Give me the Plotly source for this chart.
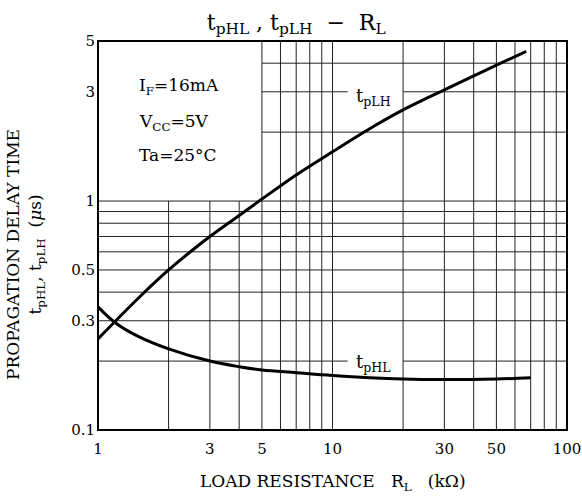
import math
import plotly.graph_objects as go

# Data
rl_lh = [1, 1.5, 2, 2.5, 3, 4, 5, 7, 10, 15, 20, 30, 40, 50, 67]
tplh = [0.25, 0.38, 0.5, 0.605, 0.70, 0.865, 1.02, 1.3, 1.64, 2.12, 2.5, 3.06, 3.52, 3.92, 4.5]
rl_hl = [1, 1.18, 1.5, 2, 3, 4, 5, 7, 10, 20, 30, 50, 70]
tphl = [0.345, 0.295, 0.255, 0.226, 0.2, 0.189, 0.183, 0.178, 0.173, 0.167, 0.166, 0.167, 0.169]

x_ticks = [1, 3, 5, 10, 30, 50, 100]
y_ticks = [0.1, 0.3, 0.5, 1, 3, 5]
x_grid_low = [2, 3, 4]                      # only below y=1
x_grid_full = [5, 6, 7, 8, 9, 10, 20, 30, 40, 50, 60, 70, 80, 90]
y_grid_full = [0.3, 0.4, 0.5, 0.6, 0.7, 0.8, 0.9, 1]
y_grid_right = [2, 4]                       # only right of x=5
label_gap = [11.6, 20]                      # grid lines broken behind the curve labels

FONT = "DejaVu Serif"
L = math.log10

fig = go.Figure()
fig.add_trace(go.Scatter(x=rl_lh, y=tplh, mode="lines",
                         line=dict(color="black", width=3, shape="spline", smoothing=1.0), showlegend=False))
fig.add_trace(go.Scatter(x=rl_hl, y=tphl, mode="lines",
                         line=dict(color="black", width=3, shape="spline", smoothing=1.0), showlegend=False))

shapes = []
gl = dict(color="#222", width=1)


def hline(x0, x1, y):
    shapes.append(dict(type="line", xref="x", yref="y", x0=x0, x1=x1, y0=y, y1=y, line=gl, layer="below"))


for xv in x_grid_low:
    shapes.append(dict(type="line", xref="x", yref="y", x0=xv, x1=xv, y0=0.1, y1=1, line=gl, layer="below"))
for xv in x_grid_full:
    shapes.append(dict(type="line", xref="x", yref="y", x0=xv, x1=xv, y0=0.1, y1=5, line=gl, layer="below"))
for yv in y_grid_full:
    hline(1, 100, yv)
for yv in y_grid_right:
    hline(5, 100, yv)
# lines with a gap for the curve labels
hline(1, label_gap[0], 0.2)
hline(label_gap[1], 100, 0.2)
hline(5, label_gap[0], 3)
hline(label_gap[1], 100, 3)
shapes.append(dict(type="rect", xref="paper", yref="paper", x0=0, x1=1, y0=0, y1=1,
                   line=dict(color="black", width=2)))

tf = dict(family=FONT, size=17, color="black")
lf = dict(family=FONT, size=18, color="black")
annotations = [
    dict(x=L(15.0), y=L(3), xref="x", yref="y", text="t<sub>pLH</sub>", showarrow=False, yshift=-5, font=lf),
    dict(x=L(15.0), y=L(0.2), xref="x", yref="y", text="t<sub>pHL</sub>", showarrow=False, yshift=-2, font=lf),
    dict(x=0.166, y=0.50, xref="x", yref="y", xanchor="left", showarrow=False, align="left",
         text="I<sub>F</sub>=16mA", font=tf),
    dict(x=0.166, y=0.345, xref="x", yref="y", xanchor="left", showarrow=False, align="left",
         text="V<sub>CC</sub>=5V", font=tf),
    dict(x=0.166, y=0.201, xref="x", yref="y", xanchor="left", showarrow=False, align="left",
         text="Ta=25°C", font=tf),
    dict(x=0.5, y=-52 / 389, xref="paper", yref="paper", xanchor="center", yanchor="middle", showarrow=False,
         text="LOAD RESISTANCE   R<sub>L</sub>   (kΩ)", font=dict(family=FONT, size=17, color="black")),
    dict(x=-72 / 469, y=0.45, xref="paper", yref="paper", xanchor="center", yanchor="middle", showarrow=False,
         textangle=-90, align="center",
         text="PROPAGATION DELAY TIME<br>t<sub>pHL</sub>, t<sub>pLH</sub>  (<i>μ</i>s)",
         font=dict(family=FONT, size=17, color="black")),
]

fig.update_layout(
    width=582, height=498,
    margin=dict(l=98, r=15, t=41, b=68),
    paper_bgcolor="white", plot_bgcolor="white",
    title=dict(text="t<sub>pHL</sub> , t<sub>pLH</sub>  −  R<sub>L</sub>", x=0.509, xanchor="center",
               y=0.956, yanchor="middle", font=dict(family=FONT, size=22, color="black")),
    xaxis=dict(type="log", range=[0, 2], showgrid=False, zeroline=False, showline=False, automargin=False,
               tickvals=x_ticks, ticktext=[str(v) for v in x_ticks], ticks="", ticklabelstandoff=8,
               tickfont=dict(family=FONT, size=15, color="black")),
    yaxis=dict(type="log", range=[-1, 0.69897], showgrid=False, zeroline=False, showline=False, automargin=False,
               tickvals=y_ticks, ticktext=[str(v) for v in y_ticks], ticks="", ticklabelstandoff=2,
               tickfont=dict(family=FONT, size=15, color="black")),
    shapes=shapes,
    annotations=annotations,
)

fig.write_html("out.html", config={"responsive": False, "displayModeBar": False},
               post_script="document.body.style.margin='0';document.body.style.overflow='hidden';")
